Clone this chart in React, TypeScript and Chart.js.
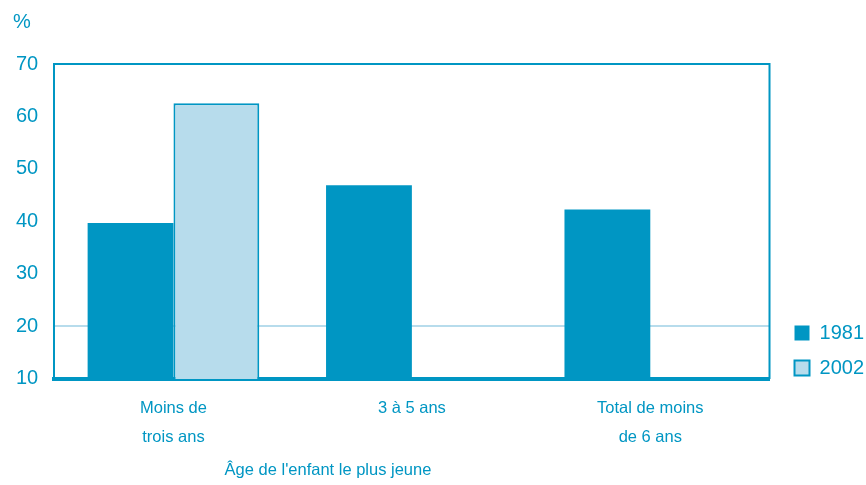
import React, { useEffect, useRef } from "react";
import { Chart, registerables } from "chart.js";

Chart.register(...registerables);

const categories: string[][] = [["Moins de", "trois ans"], ["3 à 5 ans"], ["Total de moins", "de 6 ans"]];
const series1981: (number | null)[] = [39.7, 46.9, 42.3];
const series2002: (number | null)[] = [62.5, null, null];
const yTicks: number[] = [10, 20, 30, 40, 50, 60, 70];
const yUnit = "%";
const xTitle = "Âge de l'enfant le plus jeune";

const DARK = "#0096c3";
const LIGHT = "#b7dcec";
const REG = "'Liberation Sans', Arial, sans-serif";

const framePlugin = {
  id: "frame",
  afterLayout(chart: any) {
    const lg = chart.legend;
    if (lg) {
      lg.top -= 74;
      lg.bottom -= 74;
      lg.left += 8;
      lg.right += 8;
    }
  },
  afterDatasetsDraw(chart: any) {
    const { ctx, chartArea } = chart;
    ctx.save();
    ctx.strokeStyle = DARK;
    ctx.lineWidth = 2;
    ctx.beginPath();
    ctx.moveTo(chartArea.left, chartArea.top);
    ctx.lineTo(chartArea.right, chartArea.top);
    ctx.lineTo(chartArea.right, chartArea.bottom);
    ctx.stroke();
    ctx.fillStyle = DARK;
    ctx.font = `20px ${REG}`;
    ctx.textBaseline = "middle";
    ctx.textAlign = "left";
    ctx.fillText(yUnit, 13, 22);
    ctx.font = `16.5px ${REG}`;
    ctx.textAlign = "center";
    ctx.fillText(xTitle, 328, 470);
    ctx.restore();
  },
};

export default function App() {
  const ref = useRef<HTMLCanvasElement | null>(null);
  useEffect(() => {
    if (!ref.current) return;
    const chart = new Chart(ref.current, {
      type: "bar",
      data: {
        labels: categories as any,
        datasets: [
          {
            label: "1981",
            data: series1981,
            backgroundColor: DARK,
            borderColor: DARK,
            borderWidth: 0,
            categoryPercentage: 0.72,
            barPercentage: 1.0,
          },
          {
            label: "2002",
            data: series2002,
            backgroundColor: LIGHT,
            borderColor: DARK,
            borderWidth: 2,
            categoryPercentage: 0.72,
            barPercentage: 1.0,
          },
        ],
      },
      options: {
        animation: false,
        responsive: true,
        maintainAspectRatio: false,
        layout: { padding: { top: 64, left: 0, right: 0, bottom: 18 } },
        plugins: {
          title: { display: false },
          tooltip: { enabled: false },
          legend: {
            display: true,
            position: "right",
            align: "end",
            labels: {
              boxWidth: 15,
              boxHeight: 15,
              padding: 15,
              color: DARK,
              font: { size: 20, family: REG },
            },
          },
        },
        scales: {
          x: {
            grid: { display: false, drawTicks: false },
            border: { display: true, color: DARK, width: 4 },
            ticks: {
              color: DARK,
              padding: 16,
              font: { size: 16.5, family: REG, lineHeight: 1.7 },
              maxRotation: 0,
              autoSkip: false,
            },
          },
          y: {
            min: 10,
            max: 70,
            afterBuildTicks(scale: any) {
              scale.ticks = yTicks.map((v) => ({ value: v }));
            },
            grid: {
              drawTicks: false,
              lineWidth: 2,
              color: (c: any) => (c.tick && c.tick.value === 20 ? LIGHT : "rgba(0,0,0,0)"),
            },
            border: { display: true, color: DARK, width: 2 },
            ticks: {
              color: DARK,
              padding: 16,
              font: { size: 20, family: REG },
            },
          },
          yR: {
            position: "right",
            display: true,
            grid: { display: false, drawTicks: false },
            border: { display: false },
            ticks: { display: false },
            afterFit(scale: any) {
              scale.width = 2;
            },
          },
        },
      },
      plugins: [framePlugin],
    } as any);
    return () => chart.destroy();
  }, []);
  return (
    <div style={{ position: "fixed", left: 0, top: 0, width: 866, height: 485, background: "#fff" }}>
      <canvas ref={ref} />
    </div>
  );
}
